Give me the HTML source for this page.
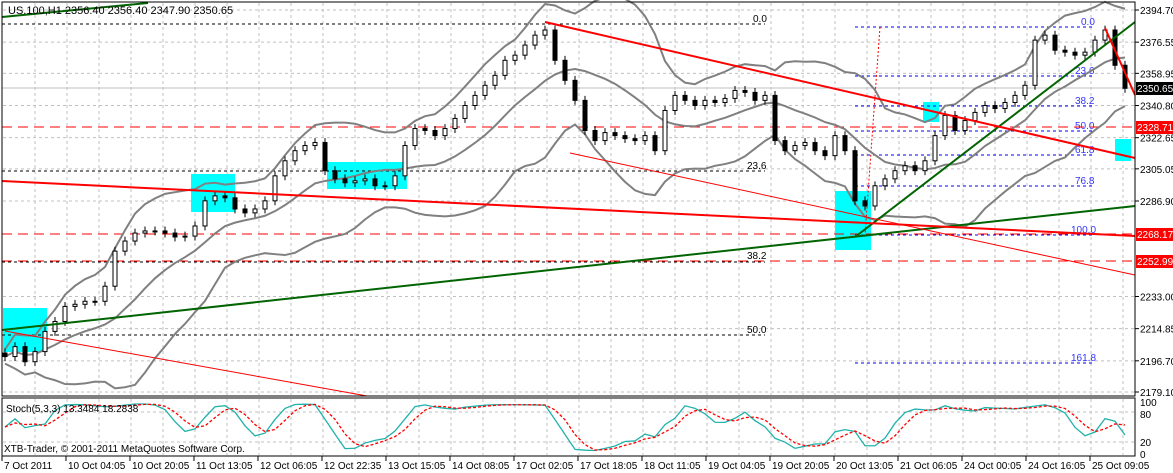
<!DOCTYPE html>
<html><head><meta charset="utf-8">
<style>
html,body{margin:0;padding:0;background:#fff;}
svg{display:block;font-family:"Liberation Sans",sans-serif;}
</style></head>
<body>
<svg id="chart" width="1173" height="473" viewBox="0 0 1173 473" xmlns="http://www.w3.org/2000/svg">
<rect x="0" y="0" width="1173" height="473" fill="#fff"/>
<g id="grid"></g>
<g id="annot-back">
  <rect x="3" y="308" width="44" height="44" fill="#00ffff"/>
  <rect x="191" y="174" width="44" height="38" fill="#00ffff"/>
  <rect x="327" y="162" width="80" height="27" fill="#00ffff"/>
  <rect x="835" y="191" width="36" height="59" fill="#00ffff"/>
  <rect x="923" y="102" width="16" height="20" fill="#00ffff"/>
  <rect x="1115" y="139" width="16" height="22" fill="#00ffff"/>
  <line x1="2" y1="127" x2="1135" y2="127" stroke="#ff0000" stroke-dasharray="10,6"/>
  <line x1="2" y1="234" x2="1135" y2="234" stroke="#ff0000" stroke-dasharray="10,6"/>
  <line x1="2" y1="261" x2="1135" y2="261" stroke="#ff0000" stroke-dasharray="10,6"/>
  <line x1="2" y1="88" x2="1135" y2="88" stroke="#c0c0c0"/>
  <g stroke="#000" stroke-dasharray="3,3">
    <line x1="2" y1="24" x2="765" y2="24"/><line x1="2" y1="171" x2="765" y2="171"/>
    <line x1="2" y1="262" x2="765" y2="262"/><line x1="2" y1="335" x2="765" y2="335"/>
  </g>
  <g fill="#000" font-size="10">
    <text x="753" y="22">0.0</text><text x="747" y="169">23.6</text><text x="747" y="259">38.2</text><text x="747" y="333">50.0</text>
  </g>
  <g stroke="#0000ff" stroke-dasharray="3,3">
    <line x1="855" y1="27" x2="1093" y2="27"/><line x1="855" y1="76" x2="1093" y2="76"/>
    <line x1="855" y1="106" x2="1093" y2="106"/><line x1="855" y1="131" x2="1093" y2="131"/>
    <line x1="855" y1="155" x2="1093" y2="155"/><line x1="855" y1="186" x2="1093" y2="186"/>
    <line x1="855" y1="235" x2="1093" y2="235"/><line x1="855" y1="363" x2="1093" y2="363"/>
  </g>
  <g fill="#3333ff" font-size="10">
    <text x="1081" y="25">0.0</text><text x="1075" y="74">23.6</text><text x="1075" y="104">38.2</text><text x="1075" y="129">50.0</text>
    <text x="1075" y="153">61.8</text><text x="1075" y="184">76.8</text><text x="1071" y="233">100.0</text><text x="1071" y="361">161.8</text>
  </g>
  <line x1="880" y1="27" x2="865" y2="235" stroke="#ff0000" stroke-dasharray="2,2"/>
</g>
<g id="bands"></g>
<g id="candles"></g>
<g>
  <line x1="2" y1="330" x2="1135" y2="206" stroke="#006400" stroke-width="2"/>
  <line x1="2" y1="17" x2="148" y2="3" stroke="#006400" stroke-width="2"/>
  <line x1="855" y1="237" x2="1135" y2="22" stroke="#006400" stroke-width="2"/>
  <line x1="2" y1="181" x2="1135" y2="236" stroke="#ff0000" stroke-width="2"/>
  <line x1="545" y1="22" x2="1135" y2="158" stroke="#ff0000" stroke-width="2"/>
  <line x1="5" y1="331" x2="367" y2="396" stroke="#ff0000" stroke-width="1"/>
  <line x1="570" y1="153" x2="1135" y2="275" stroke="#ff0000" stroke-width="1"/>
  <line x1="1105" y1="28" x2="1135" y2="95" stroke="#ff0000" stroke-width="2"/>
</g>
<g id="stoch"></g>
<rect x="2" y="2" width="1133" height="394" fill="none" stroke="#000"/>
<rect x="2" y="398" width="1133" height="58" fill="none" stroke="#000"/>
<g id="yaxis"></g>
<g font-size="10">
  <rect x="1136" y="82" width="37" height="13" fill="#000"/><text x="1137" y="92" fill="#fff">2350.65</text>
  <rect x="1136" y="121" width="37" height="13" fill="#ff0000"/><text x="1137" y="131" fill="#fff">2328.71</text>
  <rect x="1136" y="228" width="37" height="13" fill="#ff0000"/><text x="1137" y="238" fill="#fff">2268.17</text>
  <rect x="1136" y="255" width="37" height="13" fill="#ff0000"/><text x="1137" y="265" fill="#fff">2252.99</text>
</g>
<g id="xaxis"></g>
<text x="8" y="14" font-size="11" fill="#000">US.100,H1  2356.40 2356.40 2347.90 2350.65</text>
<text x="6" y="412" font-size="10" fill="#000">Stoch(5,3,3) 13.3484 18.2838</text>
<text x="4" y="452" font-size="10" fill="#000">XTB-Trader, © 2001-2011 MetaQuotes Software Corp.</text>
</svg>
<script>
const closes = [2199.1,2204.7,2196.2,2201.9,2213.3,2218.9,2227.4,2228.6,2230.3,2230.3,2238.8,2258.6,2264.3,2268.8,2270.0,2270.0,2268.8,2266.6,2267.1,2272.8,2287.0,2289.8,2288.7,2282.4,2280.2,2282.4,2287.0,2301.1,2309.6,2315.3,2318.2,2319.9,2304.0,2299.4,2297.2,2298.3,2299.4,2295.5,2295.5,2301.1,2318.2,2327.8,2326.7,2323.8,2327.8,2333.5,2340.8,2346.5,2352.2,2357.8,2366.3,2369.2,2374.9,2380.5,2383.4,2366.3,2355.0,2343.7,2326.7,2321.0,2325.5,2323.8,2322.1,2321.0,2323.8,2315.3,2338.0,2346.5,2343.7,2340.8,2343.7,2342.5,2344.8,2349.3,2348.2,2343.7,2346.5,2321.0,2315.3,2318.2,2319.9,2315.3,2312.5,2323.8,2315.3,2287.0,2284.1,2295.5,2299.4,2304.0,2306.8,2304.0,2309.6,2323.8,2335.2,2326.7,2332.3,2336.9,2340.8,2339.1,2342.5,2346.5,2352.2,2377.7,2380.5,2372.0,2370.9,2369.2,2370.9,2377.7,2383.4,2363.5,2350.5];
const priceTicks = ["2394.70","2376.55","2358.95","2340.80","2322.65","2305.05","2286.90","2233.00","2214.85","2196.70","2179.10"];
const timeLabels = ["7 Oct 2011","10 Oct 04:05","10 Oct 20:05","11 Oct 13:05","12 Oct 06:05","12 Oct 22:35","13 Oct 15:05","14 Oct 08:05","17 Oct 02:05","17 Oct 18:05","18 Oct 11:05","19 Oct 04:05","19 Oct 20:05","20 Oct 13:05","21 Oct 06:05","24 Oct 00:05","24 Oct 16:05","25 Oct 09:05"];
const stochLevels = ["100","80","20","0"];

const NS="http://www.w3.org/2000/svg";
const PMAX=2394.7, PMIN=2179.1, YTOP=10, YBOT=392;
function y(p){return YTOP+(PMAX-p)*(YBOT-YTOP)/(PMAX-PMIN);}
function x(i){return 5+i*10;}
function sy(v){return 452-v*0.5;}
function mk(tag,attrs,parent){const e=document.createElementNS(NS,tag);for(const k in attrs)e.setAttribute(k,attrs[k]);parent.appendChild(e);return e;}

const grid=document.getElementById('grid');
for(let gx=35;gx<1135;gx+=32){
  const l=mk('line',{x1:gx,y1:3,x2:gx,y2:395,stroke:'#c0c0c0','stroke-dasharray':'3,3'},grid);
  
  
  const l2=mk('line',{x1:gx,y1:399,x2:gx,y2:455,stroke:'#c0c0c0','stroke-dasharray':'3,3'},grid);
  
  
}
priceTicks.forEach(t=>{
  const yy=y(parseFloat(t));
  const l=mk('line',{x1:3,y1:yy,x2:1134,y2:yy,stroke:'#c0c0c0','stroke-dasharray':'3,3'},grid);
  
  
});
[80,20].forEach(v=>{
  const l=mk('line',{x1:3,y1:sy(v),x2:1134,y2:sy(v),stroke:'#c0c0c0','stroke-dasharray':'3,3'},grid);
  
  
});

const bands=document.getElementById('bands');
const P=12; let up=[],mid=[],lo=[];
closes.forEach((c,i)=>{
  const s=closes.slice(Math.max(0,i-P+1),i+1);
  const m=s.reduce((a,b)=>a+b,0)/s.length;
  const sd=Math.sqrt(s.reduce((a,b)=>a+(b-m)*(b-m),0)/s.length);
  mid.push([x(i),y(m)]);up.push([x(i),y(m+2*sd+4)]);lo.push([x(i),y(m-2*sd-4)]);
});
[['bollinger-upper',up],['bollinger-middle',mid],['bollinger-lower',lo]].forEach(([n,pts])=>{
  const pl=mk('polyline',{points:pts.map(p=>p.join(',')).join(' '),fill:'none',stroke:'#808080','stroke-width':2},bands);
  
  
});

const cg=document.getElementById('candles');
closes.forEach((c,i)=>{
  const o=i?closes[i-1]:c+2;
  const hi=Math.max(o,c)+2.5, low=Math.min(o,c)-2.5;
  const w=mk('line',{x1:x(i),y1:y(hi),x2:x(i),y2:y(low),stroke:'#000'},cg);
  
  
  const top=y(Math.max(o,c)), h=Math.max(1,Math.abs(y(o)-y(c)));
  const b=mk('rect',{x:x(i)-2,y:top,width:4,height:h,fill:c>=o?'#fff':'#000',stroke:'#000','stroke-width':1},cg);
  
  
});

const st=document.getElementById('stoch');
let K=[];
closes.forEach((c,i)=>{
  const s=closes.slice(Math.max(0,i-4),i+1);
  const mx=Math.max(...s)+1.5, mn=Math.min(...s)-1.5;
  K.push((c-mn)/(mx-mn)*100);
});
let Ks=K.map((v,i)=>{const s=K.slice(Math.max(0,i-2),i+1);return s.reduce((a,b)=>a+b,0)/s.length;});
let D=Ks.map((v,i)=>{const s=Ks.slice(Math.max(0,i-2),i+1);return s.reduce((a,b)=>a+b,0)/s.length;});
const kl=mk('polyline',{points:Ks.map((v,i)=>x(i)+','+sy(v)).join(' '),fill:'none',stroke:'#20b2aa','stroke-width':1.3},st);


const dl=mk('polyline',{points:D.map((v,i)=>x(i)+','+sy(v)).join(' '),fill:'none',stroke:'#ff0000','stroke-dasharray':'3,2','stroke-width':1.3},st);



const ya=document.getElementById('yaxis');
priceTicks.forEach(t=>{
  const yy=y(parseFloat(t));
  const tk=mk('line',{x1:1135,y1:yy,x2:1139,y2:yy,stroke:'#000'},ya);
  
  
  const tx=mk('text',{x:1140,y:yy+4,'font-size':10,fill:'#000'},ya);
  tx.textContent=t;
  
  
});
const sv=[100,80,20,0];
stochLevels.forEach((t,i)=>{
  const tx=mk('text',{x:1140,y:sy(sv[i])+(i%2?6:4),'font-size':10,fill:'#000'},ya);
  tx.textContent=t;
  
  
});

const xa=document.getElementById('xaxis');
timeLabels.forEach((t,i)=>{
  const xx=2+i*64;
  const tk=mk('line',{x1:xx,y1:456,x2:xx,y2:461,stroke:'#000'},xa);
  
  
  const tx=mk('text',{x:xx+2,y:469,'font-size':10,fill:'#000'},xa);
  tx.textContent=t;
  
  
});
</script>
</body></html>
